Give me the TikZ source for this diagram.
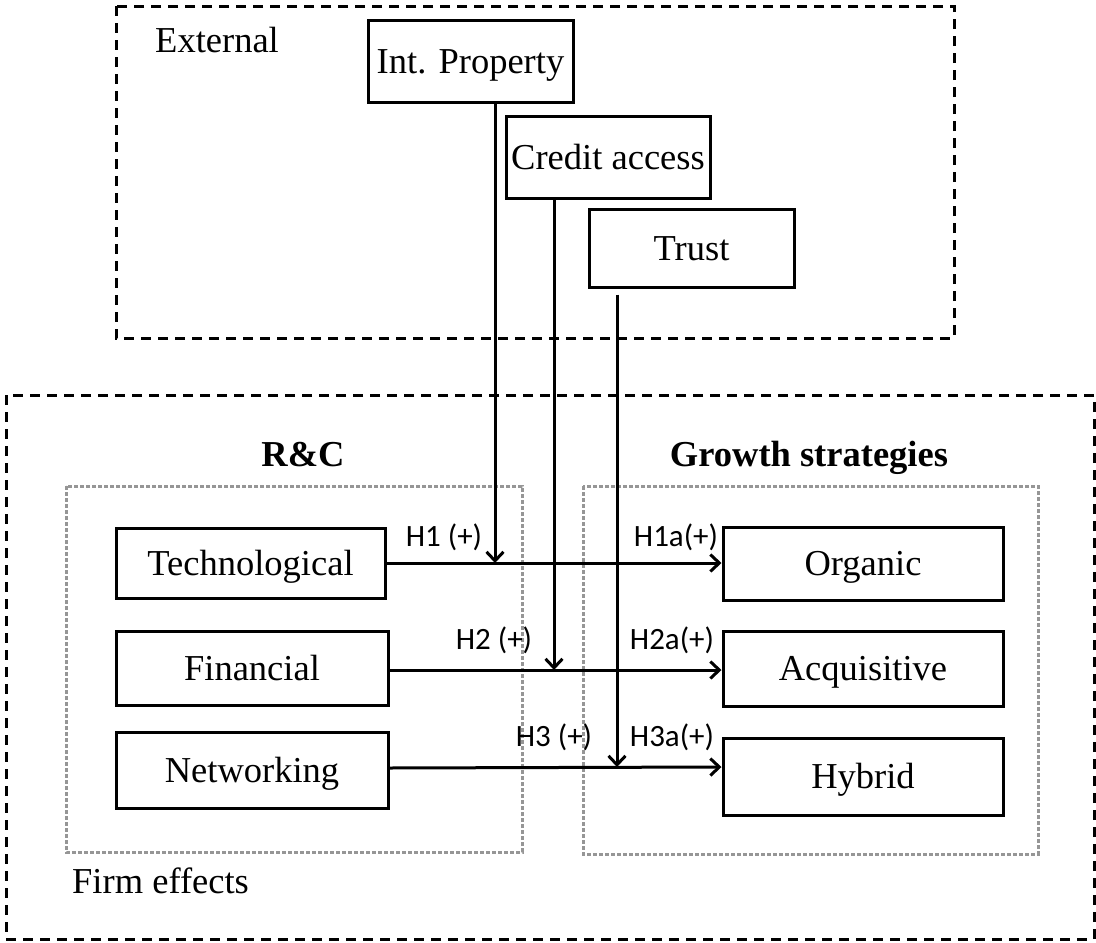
\documentclass[tikz,border=0pt]{standalone}
\usepackage{fontspec}
\setmainfont{Liberation Serif}
\newfontfamily\hlabelfont{Carlito}
\usetikzlibrary{arrows.meta}
\definecolor{dotgray}{RGB}{150,150,150}
\tikzset{
  box/.style={draw, line width=3pt, rectangle, inner sep=0pt, text height=30pt, text depth=6pt,
    font=\fontsize{36.5}{40}\selectfont},
  plain/.style={inner sep=0pt, font=\fontsize{36.5}{40}\selectfont},
  heading/.style={inner sep=0pt, font=\fontsize{36.5}{40}\selectfont\bfseries},
  hyp/.style={inner sep=0pt, font=\hlabelfont\fontsize{31}{34}\selectfont},
  group/.style={line width=3pt, dash pattern=on 10pt off 7pt},
  subgroup/.style={line width=3pt, dotgray, dash pattern=on 4pt off 2pt},
  arr/.style={line width=3pt, -{Straight Barb[length=9pt,width=17pt,line width=3pt]}},
  stem/.style={line width=3pt}
}
\begin{document}
\begin{tikzpicture}[x=1pt,y=-1pt]
\useasboundingbox (0,0) rectangle (1096,943);

% outer groups
\draw[group] (116,6) rectangle (954,338);
\draw[group] (6,395) rectangle (1094,939);
\node[plain, anchor=base west] (ext) at (155,52) {External};
\node[plain, anchor=base west] (firm) at (72,893) {Firm effects};

% inner groups
\draw[subgroup] (66,486) rectangle (522,852);
\draw[subgroup] (583,486) rectangle (1038,854);
\node[heading, anchor=base] (rc) at (303,466) {R\&C};
\node[heading, anchor=base] (gs) at (809,466) {Growth strategies};

% external factors
\node[box, minimum width=205pt, minimum height=82pt] (ip) at (470.5,61) {Int. Property};
\node[box, minimum width=204pt, minimum height=82pt] (ca) at (608,157) {Credit access};
\node[box, minimum width=205pt, minimum height=78pt] (tr) at (691.5,248) {Trust};

% firm capabilities
\node[box, minimum width=269pt, minimum height=70pt] (tech) at (250.5,563) {Technological};
\node[box, minimum width=272pt, minimum height=74pt] (fin) at (252,668) {Financial};
\node[box, minimum width=272pt, minimum height=76pt] (net) at (252,770) {Networking};

% growth strategies
\node[box, minimum width=280pt, minimum height=73pt] (org) at (863,563.5) {Organic};
\node[box, minimum width=280pt, minimum height=75pt] (acq) at (863,668.5) {Acquisitive};
\node[box, minimum width=280pt, minimum height=77pt] (hyb) at (863,776.5) {Hybrid};

% main effects
\draw[arr] (tech.east) -- ([yshift=0.5pt]org.west);
\draw[arr] ([yshift=-2pt]fin.east) -- ([yshift=-1.5pt]acq.west);
\draw[arr] ([yshift=2pt]net.east) -- ([yshift=9.5pt]hyb.west);

% moderating effects
\coordinate (m1) at (495,563);
\coordinate (m2) at (554,670);
\coordinate (m3) at (617,767);
\draw[arr] (ip.south -| m1) -- (m1);
\draw[arr] (ca.south -| m2) -- (m2);
\draw[arr] ([yshift=-6pt]tr.south -| m3) -- (m3);

% hypothesis labels
\node[hyp] (h1) at (444,537) {H1 (+)};
\node[hyp] (h1a) at (676,537) {H1a(+)};
\node[hyp] (h2) at (494,640) {H2 (+)};
\node[hyp] (h2a) at (672,640) {H2a(+)};
\node[hyp] (h3) at (554,737) {H3 (+)};
\node[hyp] (h3a) at (672,737) {H3a(+)};
\end{tikzpicture}
\end{document}
